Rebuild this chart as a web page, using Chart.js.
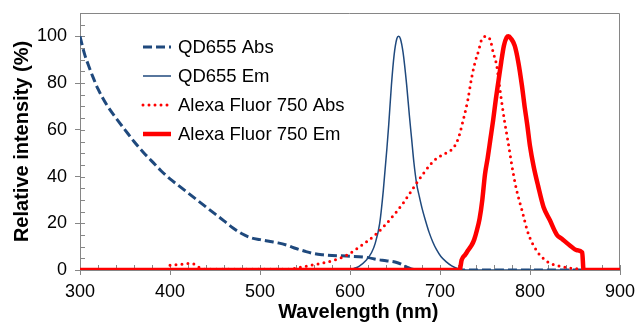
<!DOCTYPE html>
<html>
<head>
<meta charset="utf-8">
<script src="https://cdn.jsdelivr.net/npm/chart.js@4"></script>
<style>
html, body { margin: 0; padding: 0; background: #fff; }
#wrap { width: 636px; height: 324px; position: relative; }
</style>
</head>
<body>
<div id="wrap"><canvas id="spectra"></canvas></div>
<script>
// wavelength (nm) / relative intensity (%) pairs
const qdAbsX = [300, 305, 310, 315, 320, 330, 340, 350, 360, 370, 380, 390, 400, 410, 420, 430, 440, 450, 460, 470, 480, 490, 500, 510, 520, 530, 540, 550, 560, 570, 580, 600, 620, 630, 640, 650, 657, 663, 668, 675, 720, 860];
const qdAbsY = [100, 92.5, 87, 82, 77.5, 70.5, 65, 60, 55, 50.5, 46.5, 42.5, 39, 36, 33, 30, 27, 24, 21, 18, 15.5, 13.8, 13, 12.3, 11.6, 10.6, 9.2, 8, 7, 6.5, 6.2, 5.9, 5.3, 4.5, 4, 3.4, 2.5, 1.2, 0.5, 0, 0, 0];

const qdEmX = [600, 604, 610, 618, 624, 628, 633, 637, 641, 643, 646, 649, 652, 654, 656, 659, 663, 666, 668.5, 671, 674, 677, 680, 684, 688, 692, 696, 701, 707, 713, 720, 730, 860];
const qdEmY = [0, 0.6, 1.6, 4.2, 7.5, 11.4, 20, 34, 52, 62, 79, 92, 99, 100, 99, 93, 79, 66, 56, 46, 37, 31.5, 26.5, 21, 16, 12, 8.8, 5.8, 3.5, 1.8, 0.6, 0, 0];

const afAbsX = [400, 405, 412, 422, 428, 433, 440, 530, 545, 556, 570, 582, 596, 611, 630, 644, 659, 674, 689, 697, 704, 711, 715, 720, 726, 731, 735, 739, 743, 746, 752, 756, 759, 763, 766, 768.5, 772, 776, 780, 785, 791, 798, 807, 820, 837, 856, 860];
const afAbsY = [2, 2.2, 2.4, 2.8, 2.4, 1, 0.3, 0.3, 1.2, 2, 3, 4.2, 6.3, 10, 15.7, 21.4, 28.6, 37.2, 45, 48, 49.5, 51, 52.3, 56, 64.5, 73, 82, 89, 94, 98.3, 100, 98.3, 93.3, 87.5, 79, 72, 63, 54, 44.4, 34.4, 25.7, 15.7, 8.5, 3.4, 1.3, 0.3, 0];

const afEmX = [300, 722, 723, 724, 728, 731, 735, 738, 741, 744, 747, 750, 753, 756, 759, 762, 765, 768, 771, 774, 776, 779, 783, 787, 791, 794, 797, 800, 804, 809, 815, 822, 830, 835, 844, 852, 858, 859.5, 900];
const afEmY = [0, 0, 2, 4.2, 6.5, 8.3, 10.5, 13, 17, 22, 30, 41, 48, 56, 64, 73, 81, 89, 96, 99.5, 100, 99, 96, 89, 79, 70, 62, 53, 44.4, 36, 27, 21.4, 15, 13.5, 10.6, 8.5, 7.5, 0, 0];

const seriesNames = ['QD655 Abs', 'QD655 Em', 'Alexa Fluor 750 Abs', 'Alexa Fluor 750 Em'];
const xTicks = [300, 400, 500, 600, 700, 800, 900];
const yTicks = [0, 20, 40, 60, 80, 100];

const navy = '#1F497D';
const red = '#FF0000';
const axisGray = '#868686';
const fontFamily = "'Liberation Sans', Arial, sans-serif";

function toPoints(xs, ys) {
    return xs.map((x, i) => ({ x: x, y: ys[i] }));
}

// tick marks inside the plot + top/right frame
const frameAndMinor = {
    id: 'frameAndMinor',
    beforeDatasetsDraw(chart) {
        const { ctx, chartArea: a, scales: { x, y } } = chart;
        ctx.save();
        ctx.strokeStyle = axisGray;
        ctx.lineWidth = 1;
        ctx.beginPath();
        for (let v = 300; v <= 900; v += 20) {
            const px = Math.round(x.getPixelForValue(v)) + 0.5;
            ctx.moveTo(px, a.bottom);
            ctx.lineTo(px, a.bottom - 5);
        }
        for (let v = 0; v <= 110; v += 5) {
            const py = Math.round(y.getPixelForValue(v)) + 0.5;
            ctx.moveTo(a.left, py);
            ctx.lineTo(a.left + 5, py);
        }
        ctx.moveTo(a.left, a.top + 0.5);
        ctx.lineTo(a.right - 0.5, a.top + 0.5);
        ctx.lineTo(a.right - 0.5, a.bottom);
        ctx.stroke();
        ctx.restore();
    }
};

// legend sitting inside the plot, top left
const insideLegend = {
    id: 'insideLegend',
    afterDraw(chart) {
        const { ctx, chartArea: a } = chart;
        const x0 = a.left + 63, x1 = a.left + 91, tx = a.left + 98;
        ctx.save();
        ctx.font = '18.5px ' + fontFamily;
        ctx.textBaseline = 'middle';
        ctx.fillStyle = '#000';
        chart.data.datasets.forEach((ds, i) => {
            const yy = a.top + 34 + i * 29;
            ctx.beginPath();
            ctx.strokeStyle = ds.borderColor;
            ctx.lineWidth = ds.borderWidth;
            ctx.lineCap = ds.borderCapStyle || 'butt';
            ctx.setLineDash(ds.borderDash || []);
            ctx.moveTo(x0, yy);
            ctx.lineTo(x1, yy);
            ctx.stroke();
            ctx.setLineDash([]);
            ctx.fillText(ds.label, tx, yy + 1);
        });
        ctx.restore();
    }
};

const ctx = document.getElementById('spectra');
const chart = new Chart(ctx, {
    type: 'line',
    data: {
        datasets: [{
            label: seriesNames[0],
            data: toPoints(qdAbsX, qdAbsY),
            borderColor: navy,
            borderWidth: 3,
            borderDash: [9, 4],
            order: 3
        }, {
            label: seriesNames[1],
            data: toPoints(qdEmX, qdEmY),
            borderColor: navy,
            borderWidth: 1.5,
            order: 2
        }, {
            label: seriesNames[2],
            data: toPoints(afAbsX, afAbsY),
            borderColor: red,
            borderWidth: 3,
            borderDash: [0, 6],
            borderCapStyle: 'round',
            order: 1
        }, {
            label: seriesNames[3],
            data: toPoints(afEmX, afEmY),
            borderColor: red,
            borderWidth: 4.5,
            borderJoinStyle: 'round',
            order: 0
        }]
    },
    options: {
        animation: false,
        responsive: true,
        maintainAspectRatio: false,
        devicePixelRatio: 1,
        layout: { padding: { top: 13, right: 16, left: 0, bottom: 0 } },
        elements: {
            point: { radius: 0 },
            line: { cubicInterpolationMode: 'monotone', fill: false }
        },
        plugins: {
            legend: { display: false },
            tooltip: { enabled: false }
        },
        scales: {
            x: {
                type: 'linear',
                min: 300,
                max: 900,
                afterBuildTicks: s => { s.ticks = xTicks.map(v => ({ value: v })); },
                afterFit: s => { s.height = 54; s.paddingLeft = 0; s.paddingRight = 0; },
                grid: { drawOnChartArea: false, tickLength: 5, color: axisGray },
                border: { color: axisGray },
                ticks: { color: '#000', font: { family: fontFamily, size: 18 }, padding: 6, maxRotation: 0, autoSkip: false },
                title: {
                    display: true,
                    text: '   Wavelength (nm)',
                    color: '#000',
                    font: { family: fontFamily, size: 20, weight: 'bold' },
                    padding: { top: 0, bottom: 0 }
                }
            },
            y: {
                min: 0,
                max: 110,
                afterBuildTicks: s => { s.ticks = yTicks.map(v => ({ value: v })); },
                afterFit: s => { s.width = 80; s.paddingTop = 0; s.paddingBottom = 0; },
                grid: { drawOnChartArea: false, tickLength: 5, color: axisGray },
                border: { color: axisGray },
                ticks: { color: '#000', font: { family: fontFamily, size: 18 }, padding: 8 },
                title: {
                    display: true,
                    text: 'Relative intensity (%)',
                    color: '#000',
                    font: { family: fontFamily, size: 20, weight: 'bold' },
                    padding: { top: 10, bottom: 0 }
                }
            }
        }
    },
    plugins: [frameAndMinor, insideLegend]
});
</script>
</body>
</html>
